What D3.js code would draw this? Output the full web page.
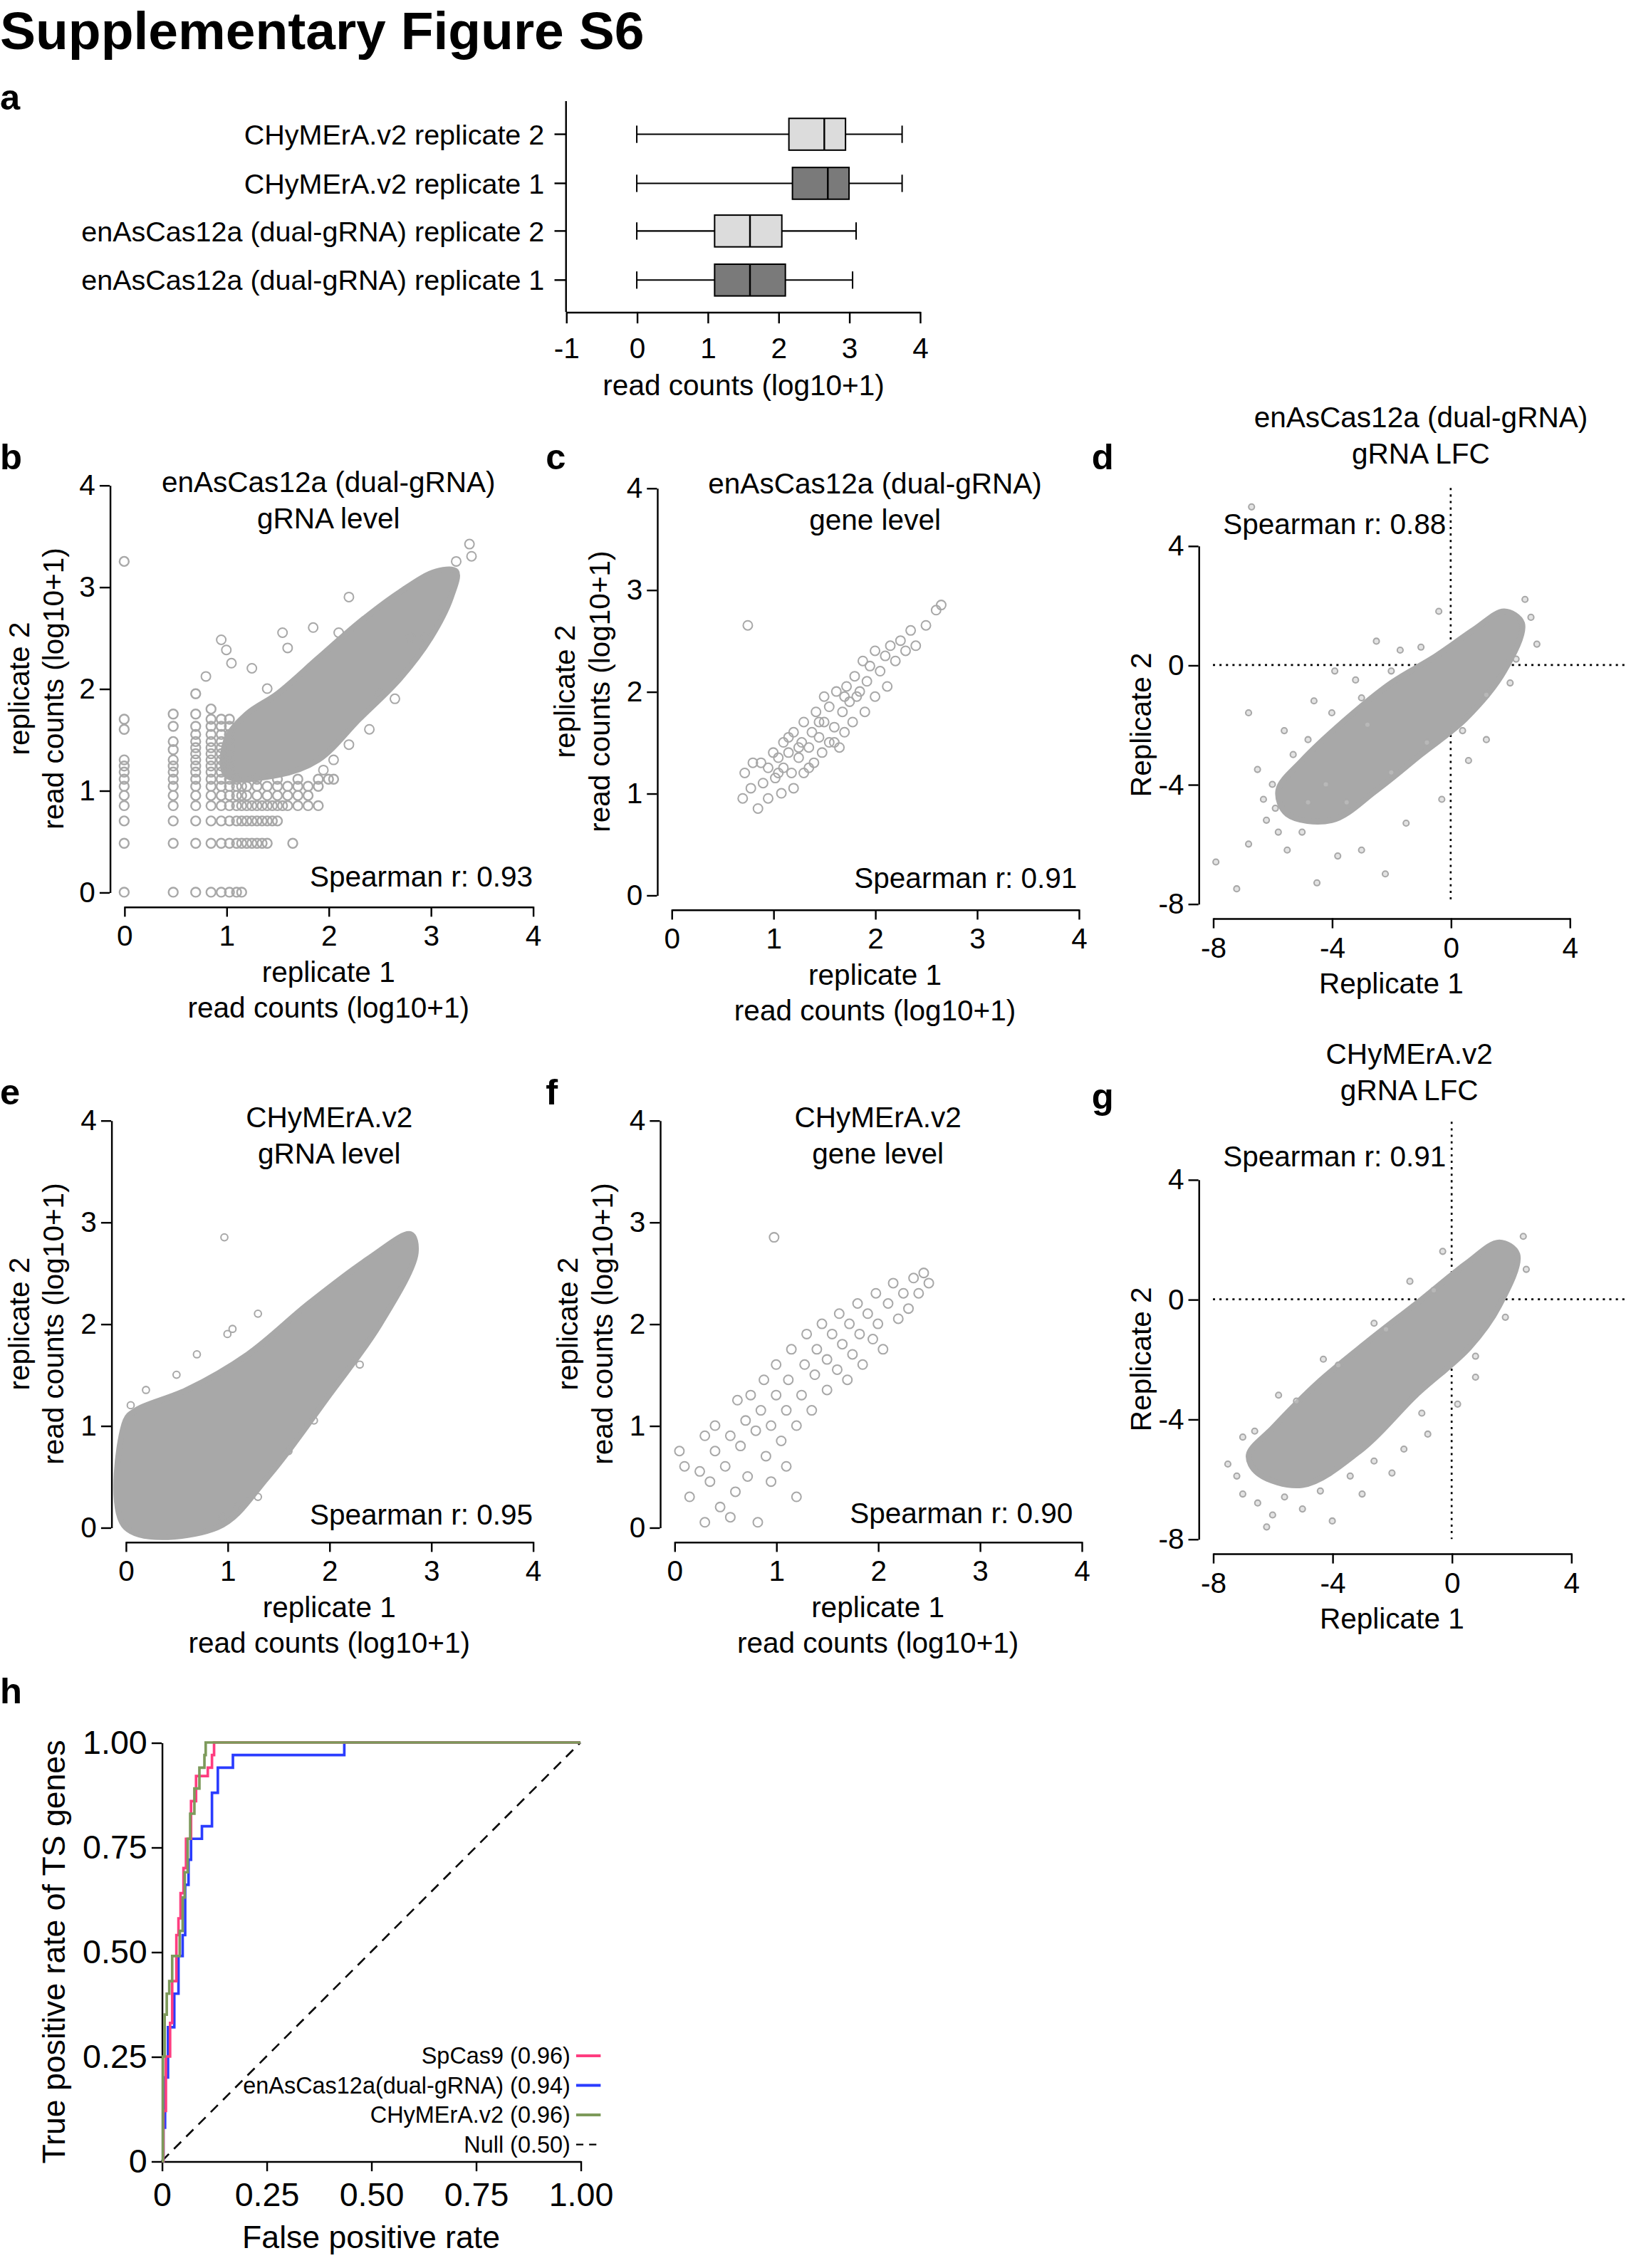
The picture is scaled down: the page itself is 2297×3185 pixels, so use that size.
<!DOCTYPE html>
<html><head><meta charset="utf-8">
<script src="https://cdn.jsdelivr.net/npm/d3@7"></script>
<style>body{margin:0;background:#fff}text{font-family:"Liberation Sans",Arial,Helvetica,sans-serif}</style>
</head><body><svg id="fig" width="2297" height="3185"></svg>
<script>
// ---- panel a: box plots (log10 read counts) ----
var boxLabels = ['CHyMErA.v2 replicate 2', 'CHyMErA.v2 replicate 1', 'enAsCas12a (dual-gRNA) replicate 2', 'enAsCas12a (dual-gRNA) replicate 1'];
var boxMin = [0, 0, 0, 0];
var boxQ1 = [2.15, 2.2, 1.1, 1.1];
var boxMed = [2.65, 2.7, 1.6, 1.6];
var boxQ3 = [2.95, 3.0, 2.05, 2.1];
var boxMax = [3.75, 3.75, 3.1, 3.05];
var boxFill = ['#dcdcdc', '#7a7a7a', '#dcdcdc', '#7a7a7a'];

// ---- scatter panels: dense core outline + individually visible points ----
var bCore = [[1.0,1.15],[1.5,1.15],[1.9,1.3],[2.3,1.7],[2.7,2.1],[3.0,2.5],[3.2,2.9],[3.25,3.15],[3.05,3.15],[2.7,2.95],[2.3,2.65],[1.9,2.3],[1.5,1.95],[1.2,1.75],[1.0,1.5]];
var bColumns = [
  {x: 0, ys: [0, 0.48, 0.7, 0.85, 0.95, 1.04, 1.11, 1.18, 1.24, 1.3, 1.6, 1.7, 3.25]},
  {x: 0.48, ys: [0, 0.48, 0.7, 0.85, 0.95, 1.04, 1.11, 1.18, 1.24, 1.3, 1.4, 1.48, 1.63, 1.75]},
  {x: 0.7, ys: [0, 0.48, 0.7, 0.85, 0.95, 1.04, 1.11, 1.18, 1.24, 1.3, 1.36, 1.42, 1.48, 1.55, 1.63, 1.75, 1.95]},
  {x: 0.85, ys: [0, 0.48, 0.7, 0.85, 0.95, 1.04, 1.11, 1.18, 1.24, 1.3, 1.36, 1.42, 1.48, 1.55, 1.63, 1.7, 1.8]},
  {x: 0.95, ys: [0, 0.48, 0.7, 0.85, 0.95, 1.04, 1.11, 1.18, 1.24, 1.3, 1.36, 1.42, 1.48, 1.55, 1.63, 1.7]},
  {x: 1.03, ys: [0, 0.48, 0.7, 0.85, 0.95, 1.04, 1.11, 1.18, 1.24, 1.3, 1.36, 1.42, 1.48, 1.55, 1.63, 1.7]},
  {x: 1.1, ys: [0, 0.48, 0.7, 0.85, 0.95, 1.04, 1.11]},
  {x: 1.15, ys: [0, 0.48, 0.7, 0.85, 0.95, 1.04]}
];
var bRows = [
  {y: 0.48, xs: [1.2, 1.25, 1.3, 1.35, 1.4, 1.65]},
  {y: 0.7, xs: [1.2, 1.25, 1.3, 1.35, 1.4, 1.45, 1.5]},
  {y: 0.85, xs: [1.2, 1.25, 1.3, 1.35, 1.4, 1.45, 1.5, 1.55, 1.6, 1.7, 1.8, 1.9]},
  {y: 0.95, xs: [1.2, 1.3, 1.4, 1.5, 1.6, 1.7, 1.8]},
  {y: 1.04, xs: [1.2, 1.3, 1.4, 1.5, 1.6, 1.7, 1.8, 1.9]},
  {y: 1.11, xs: [1.3, 1.5, 1.7, 1.9, 2.0, 2.05]}
];
var bPoints = [[0.95,2.48],[1.0,2.38],[1.55,2.55],[1.85,2.6],[2.2,2.9],[0.8,2.12],[1.25,2.2],[1.6,2.4],[1.05,2.25],[2.65,1.9],[2.4,1.6],[2.05,1.3],[1.95,1.2],[3.38,3.42],[3.4,3.3],[3.25,3.25],[2.95,2.5],[2.8,2.5],[2.1,2.55],[1.4,2.0],[2.5,1.95],[2.2,1.45]];

var cPoints = [[0.75,2.65],[0.7,0.95],[0.72,1.2],[0.8,1.3],[0.78,1.05],[0.85,0.85],[0.9,1.1],[0.95,1.25],[0.95,0.95],[1.0,1.4],[1.02,1.15],[1.05,1.35],[1.08,1.0],[1.1,1.5],[1.1,1.25],[1.15,1.4],[1.18,1.2],[1.2,1.6],[1.2,1.05],[1.25,1.35],[1.28,1.5],[1.3,1.7],[1.3,1.2],[1.35,1.45],[1.38,1.6],[1.4,1.3],[1.42,1.8],[1.45,1.55],[1.48,1.4],[1.5,1.7],[1.5,1.95],[1.55,1.5],[1.55,1.85],[1.6,1.65],[1.62,2.0],[1.65,1.45],[1.68,1.8],[1.7,1.6],[1.72,2.05],[1.75,1.9],[1.78,1.7],[1.8,2.15],[1.82,1.95],[1.85,2.0],[1.88,2.3],[1.9,1.8],[1.92,2.1],[1.95,2.25],[2.0,1.95],[2.0,2.4],[2.05,2.2],[2.1,2.35],[2.12,2.05],[2.15,2.45],[2.2,2.3],[2.25,2.5],[2.3,2.4],[2.35,2.6],[2.4,2.45],[2.5,2.65],[2.6,2.8],[2.65,2.85],[1.25,1.45],[1.35,1.25],[1.45,1.7],[1.6,1.5],[1.7,1.95],[1.15,1.55],[1.05,1.2],[0.88,1.3]];

var dCore = [[-5.5,-5.0],[-4.0,-5.2],[-2.5,-4.2],[-1.0,-3.0],[0.5,-1.8],[1.8,-0.2],[2.4,1.4],[1.8,1.8],[0.8,1.2],[-0.5,0.3],[-2.0,-0.6],[-3.5,-1.8],[-5.0,-3.2],[-5.8,-4.2]];
var dPoints = [[-7.9,-6.6],[-7.2,-7.5],[-6.8,-6.0],[-6.2,-5.2],[-6.5,-3.5],[-5.9,-4.8],[-5.5,-6.2],[-4.5,-7.3],[-2.2,-7.0],[-3.0,-6.2],[-3.8,-6.4],[-6.8,-1.6],[-5.6,-2.2],[-4.6,-1.2],[-3.2,-0.5],[-1.7,0.5],[-0.4,1.8],[1.2,-2.5],[0.6,-3.2],[-0.3,-4.5],[-1.5,-5.3],[-3.9,-0.2],[-2.5,0.8],[2.5,2.2],[2.7,1.6],[2.9,0.7],[-6.7,5.3],[-4.2,-4.0],[-5.0,-5.6],[-2.8,-2.0],[-6.0,-4.0],[-5.3,-3.0],[-4.8,-2.5],[-4.0,-1.6],[-3.0,-1.1],[-2.0,-0.2],[-1.0,0.6],[-4.8,-4.6],[-3.5,-4.6],[-2.0,-3.6],[-0.8,-2.6],[0.4,-2.2],[1.2,-1.0],[2.0,-0.6],[2.2,0.2],[-6.3,-4.5],[-5.8,-5.6]];

var eCore = [[0,0],[0.9,0],[1.4,0.5],[2.0,1.3],[2.5,2.0],[2.85,2.7],[2.8,2.88],[2.4,2.65],[1.8,2.2],[1.2,1.7],[0.6,1.35],[0.1,1.15],[0,1.05]];
var ePoints = [[0.97,2.85],[0.05,1.2],[0.2,1.35],[0.5,1.5],[0.7,1.7],[1.05,1.95],[1.3,2.1],[1.1,0.2],[1.3,0.3],[1.6,0.75],[1.85,1.05],[2.3,1.6],[0.95,0.1],[1.0,1.9]];

var fPoints = [[0.98,2.85],[0.05,0.75],[0.1,0.6],[0.15,0.3],[0.25,0.55],[0.3,0.05],[0.35,0.45],[0.4,0.75],[0.45,0.2],[0.5,0.6],[0.55,0.9],[0.6,0.35],[0.62,1.25],[0.65,0.8],[0.7,1.05],[0.72,0.5],[0.75,1.3],[0.8,0.95],[0.82,0.05],[0.85,1.15],[0.88,1.45],[0.9,0.7],[0.95,1.0],[1.0,1.3],[1.0,1.6],[1.05,0.85],[1.1,1.15],[1.12,1.45],[1.15,1.75],[1.2,1.0],[1.25,1.3],[1.28,1.6],[1.3,1.9],[1.35,1.15],[1.38,1.5],[1.4,1.75],[1.45,2.0],[1.5,1.35],[1.5,1.65],[1.55,1.9],[1.6,1.55],[1.62,2.1],[1.65,1.8],[1.7,1.45],[1.72,2.0],[1.75,1.7],[1.8,2.2],[1.82,1.9],[1.85,1.6],[1.9,2.1],[1.95,1.85],[1.98,2.3],[2.0,2.0],[2.05,1.75],[2.1,2.2],[2.15,2.4],[2.2,2.05],[2.25,2.3],[2.3,2.15],[2.35,2.45],[2.4,2.3],[2.45,2.5],[2.5,2.4],[0.4,1.0],[0.3,0.9],[1.2,0.3],[1.1,0.6],[0.55,0.1],[0.95,0.45]];

var gCore = [[-6.5,-5.8],[-5.0,-6.2],[-3.0,-5.0],[-1.2,-3.2],[0.6,-1.6],[1.6,-0.2],[2.2,1.5],[1.6,1.9],[0.5,1.2],[-1.0,0.0],[-2.8,-1.4],[-4.5,-2.8],[-6.0,-4.3],[-6.8,-5.2]];
var gPoints = [[-7.0,-6.5],[-6.5,-6.8],[-6.0,-7.2],[-5.0,-7.0],[-4.0,-7.4],[-3.0,-6.5],[-2.0,-5.8],[-7.0,-4.6],[-5.8,-3.2],[-4.3,-2.0],[-2.6,-0.8],[-1.4,0.6],[-0.3,1.6],[0.8,-2.6],[0.2,-3.5],[-0.8,-4.5],[2.4,2.1],[2.5,1.0],[-7.5,-5.5],[-6.2,-7.6],[-1.6,-5.0],[-7.2,-5.9],[-6.6,-4.4],[-5.2,-3.4],[-3.8,-2.2],[-2.2,-1.0],[-0.6,0.3],[-4.4,-6.4],[-2.6,-5.4],[-1.0,-3.8],[0.8,-1.9],[1.8,-0.6],[-5.6,-6.6],[-3.4,-5.9]];

// ---- panel h: ROC curves (FPR, TPR) ----
var rocSpCas9 = [[0,0],[0.004,0.12],[0.01,0.25],[0.02,0.33],[0.025,0.43],[0.035,0.54],[0.04,0.58],[0.045,0.64],[0.052,0.7],[0.058,0.77],[0.07,0.86],[0.082,0.92],[0.11,0.94],[0.12,0.97],[0.125,1],[1,1]];
var rocEnAs = [[0,0],[0.004,0.08],[0.008,0.2],[0.015,0.32],[0.03,0.4],[0.04,0.49],[0.05,0.54],[0.056,0.66],[0.064,0.72],[0.07,0.77],[0.096,0.8],[0.12,0.88],[0.134,0.94],[0.17,0.97],[0.436,1],[1,1]];
var rocChymera = [[0,0],[0.003,0.25],[0.007,0.35],[0.012,0.4],[0.018,0.43],[0.025,0.49],[0.043,0.55],[0.05,0.63],[0.055,0.69],[0.062,0.77],[0.068,0.83],[0.078,0.89],[0.09,0.94],[0.102,0.97],[0.105,1],[1,1]];
var rocLegend = ['SpCas9 (0.96)', 'enAsCas12a(dual-gRNA) (0.94)', 'CHyMErA.v2 (0.96)', 'Null (0.50)'];
var rocColors = ['#ff3d80', '#2a3cff', '#7d9a5b', '#000'];

var S = 2297 / 1133;
var grey = '#a8a8a8';
var FS = 20;
var svg = d3.select('#fig');
var root = svg.append('g').attr('transform', 'scale(' + S + ')');

root.append('text').attr('x', 0).attr('y', 34).attr('font-size', 37).attr('font-weight', 'bold').text('Supplementary Figure S6');
[['a', 0, 76], ['b', 0, 325], ['c', 378, 325], ['d', 756, 325], ['e', 0, 765], ['f', 378, 765], ['g', 756, 768], ['h', 0, 1180]].forEach(function (l) {
  root.append('text').attr('x', l[1]).attr('y', l[2]).attr('font-size', 25).attr('font-weight', 'bold').text(l[0]);
});

function styleAxis (g, fs) {
  g.selectAll('path,line').attr('stroke', '#000').attr('stroke-width', 1.2);
  g.selectAll('text').attr('font-size', fs).attr('fill', '#000').style('font-family', '"Liberation Sans",Arial,sans-serif');
}
var plain = function (d) { return String(d); };

// panel a
var ax = d3.scaleLinear().domain([-1, 4]).range([392, 637]);
var rowY = [93, 127, 160, 194];
var pa = root.append('g');
pa.append('line').attr('x1', 392).attr('x2', 392).attr('y1', 70).attr('y2', 216).attr('stroke', '#000').attr('stroke-width', 1.2);
rowY.forEach(function (y, i) {
  pa.append('line').attr('x1', 384).attr('x2', 392).attr('y1', y).attr('y2', y).attr('stroke', '#000').attr('stroke-width', 1.2);
  pa.append('text').attr('x', 377).attr('y', y + 7).attr('text-anchor', 'end').attr('font-size', 19.5).text(boxLabels[i]);
  pa.append('line').attr('x1', ax(boxMin[i])).attr('x2', ax(boxMax[i])).attr('y1', y).attr('y2', y).attr('stroke', '#000');
  [boxMin[i], boxMax[i]].forEach(function (v) {
    pa.append('line').attr('x1', ax(v)).attr('x2', ax(v)).attr('y1', y - 6).attr('y2', y + 6).attr('stroke', '#000');
  });
  pa.append('rect').attr('x', ax(boxQ1[i])).attr('width', ax(boxQ3[i]) - ax(boxQ1[i])).attr('y', y - 11).attr('height', 22)
    .attr('fill', boxFill[i]).attr('stroke', '#000');
  pa.append('line').attr('x1', ax(boxMed[i])).attr('x2', ax(boxMed[i])).attr('y1', y - 11).attr('y2', y + 11).attr('stroke', '#000').attr('stroke-width', 1.2);
});
var axA = pa.append('g').attr('transform', 'translate(0,216)').call(d3.axisBottom(ax).ticks(5).tickFormat(plain).tickSize(8).tickSizeOuter(0).tickPadding(10));
styleAxis(axA, FS);
pa.append('text').attr('x', 515).attr('y', 274).attr('text-anchor', 'middle').attr('font-size', FS).text('read counts (log10+1)');

// generic scatter panel
function scatter (o) {
  var g = root.append('g');
  var x = d3.scaleLinear().domain(o.dom).range(o.xr);
  var y = d3.scaleLinear().domain(o.dom).range(o.yr);
  var ya = g.append('g').attr('transform', 'translate(' + (o.xr[0] - 10) + ',0)').call(d3.axisLeft(y).tickValues(o.ticks).tickFormat(plain).tickSize(7).tickSizeOuter(0).tickPadding(3));
  var xa = g.append('g').attr('transform', 'translate(0,' + (o.yr[0] + 10) + ')').call(d3.axisBottom(x).tickValues(o.ticks).tickFormat(plain).tickSize(7).tickSizeOuter(0).tickPadding(6));
  styleAxis(ya, FS); styleAxis(xa, FS);
  if (o.dotted) {
    g.append('line').attr('x1', x(0)).attr('x2', x(0)).attr('y1', o.yr[1] - 40).attr('y2', o.yr[0]).attr('stroke', '#000').attr('stroke-dasharray', '1.5,3').attr('stroke-width', 1.3);
    g.append('line').attr('x1', o.xr[0]).attr('x2', o.xr[1] + 40).attr('y1', y(0)).attr('y2', y(0)).attr('stroke', '#000').attr('stroke-dasharray', '1.5,3').attr('stroke-width', 1.3);
  }
  if (o.core) {
    g.append('path').datum(o.core).attr('d', d3.line().x(function (d) { return x(d[0]); }).y(function (d) { return y(d[1]); }).curve(d3.curveCatmullRomClosed))
      .attr('fill', grey).attr('stroke', grey).attr('stroke-width', 4);
  }
  g.selectAll('circle.p').data(o.points).enter().append('circle')
    .attr('cx', function (d) { return x(d[0]); }).attr('cy', function (d) { return y(d[1]); })
    .attr('r', o.r).attr('fill', o.dotted ? '#c8c8c8' : 'none').attr('fill-opacity', 0.5).attr('stroke', grey).attr('stroke-width', 1);
  var cx = (o.xr[0] + o.xr[1]) / 2;
  o.title.forEach(function (t, i) {
    g.append('text').attr('x', o.titleX || cx).attr('y', o.titleY + i * 25).attr('text-anchor', 'middle').attr('font-size', FS).text(t);
  });
  o.xlab.forEach(function (t, i) {
    g.append('text').attr('x', cx).attr('y', o.yr[0] + 62 + i * 25).attr('text-anchor', 'middle').attr('font-size', FS).text(t);
  });
  var cy = (o.yr[0] + o.yr[1]) / 2;
  o.ylab.forEach(function (t, i) {
    var xx = o.ylabX + i * 24;
    g.append('text').attr('transform', 'translate(' + xx + ',' + cy + ') rotate(-90)').attr('text-anchor', 'middle').attr('font-size', FS).text(t);
  });
  g.append('text').attr('x', o.sp[0]).attr('y', o.sp[1]).attr('text-anchor', o.sp[2]).attr('font-size', FS).text(o.spText);
  return {g: g, x: x, y: y};
}

var readLab = ['replicate 1', 'read counts (log10+1)'];
var readYLab = ['replicate 2', 'read counts (log10+1)'];
var pb = scatter({dom: [0, 4], xr: [86, 369], yr: [618, 336], ticks: [0, 1, 2, 3, 4], core: bCore, points: bPoints, r: 3.2,
  title: ['enAsCas12a (dual-gRNA)', 'gRNA level'], titleY: 341, xlab: readLab, ylab: readYLab, ylabX: 20,
  sp: [369, 614, 'end'], spText: 'Spearman r: 0.93'});
bColumns.forEach(function (c) {
  c.ys.forEach(function (v) { pb.g.append('circle').attr('cx', pb.x(c.x)).attr('cy', pb.y(v)).attr('r', 3.2).attr('fill', 'none').attr('stroke', grey).attr('stroke-width', 1.2); });
});
bRows.forEach(function (rw) {
  rw.xs.forEach(function (v) { pb.g.append('circle').attr('cx', pb.x(v)).attr('cy', pb.y(rw.y)).attr('r', 3.2).attr('fill', 'none').attr('stroke', grey).attr('stroke-width', 1.2); });
});

scatter({dom: [0, 4], xr: [465, 747], yr: [620, 338], ticks: [0, 1, 2, 3, 4], points: cPoints, r: 3.2,
  title: ['enAsCas12a (dual-gRNA)', 'gene level'], titleY: 342, xlab: readLab, ylab: readYLab, ylabX: 398,
  sp: [746, 615, 'end'], spText: 'Spearman r: 0.91'});

scatter({dom: [-8, 4], xr: [840, 1087], yr: [626, 378], ticks: [-8, -4, 0, 4], core: dCore, points: dPoints, r: 2, dotted: true,
  title: ['enAsCas12a (dual-gRNA)', 'gRNA LFC'], titleY: 296, titleX: 984, xlab: ['Replicate 1'], ylab: ['Replicate 2'], ylabX: 797,
  sp: [847, 370, 'start'], spText: 'Spearman r: 0.88'});

scatter({dom: [0, 4], xr: [87, 369], yr: [1058, 776], ticks: [0, 1, 2, 3, 4], core: eCore, points: ePoints, r: 2.4,
  title: ['CHyMErA.v2', 'gRNA level'], titleY: 781, xlab: readLab, ylab: readYLab, ylabX: 20,
  sp: [369, 1056, 'end'], spText: 'Spearman r: 0.95'});

scatter({dom: [0, 4], xr: [467, 749], yr: [1058, 776], ticks: [0, 1, 2, 3, 4], points: fPoints, r: 3.2,
  title: ['CHyMErA.v2', 'gene level'], titleY: 781, xlab: readLab, ylab: readYLab, ylabX: 400,
  sp: [743, 1055, 'end'], spText: 'Spearman r: 0.90'});

scatter({dom: [-8, 4], xr: [840, 1088], yr: [1066, 817], ticks: [-8, -4, 0, 4], core: gCore, points: gPoints, r: 2, dotted: true,
  title: ['CHyMErA.v2', 'gRNA LFC'], titleY: 737, titleX: 976, xlab: ['Replicate 1'], ylab: ['Replicate 2'], ylabX: 797,
  sp: [847, 808, 'start'], spText: 'Spearman r: 0.91'});

// panel h
var hx = d3.scaleLinear().domain([0, 1]).range([112, 402]);
var hy = d3.scaleLinear().domain([0, 1]).range([1497, 1207]);
var ph = root.append('g');
var hticks = [0, 0.25, 0.5, 0.75, 1];
var hfmt = function (d) { return d === 0 ? '0' : d3.format('.2f')(d); };
var hya = ph.append('g').attr('transform', 'translate(112,0)').call(d3.axisLeft(hy).tickValues(hticks).tickFormat(hfmt).tickSize(7).tickSizeOuter(0).tickPadding(3));
var hxa = ph.append('g').attr('transform', 'translate(0,1497)').call(d3.axisBottom(hx).tickValues(hticks).tickFormat(hfmt).tickSize(7).tickSizeOuter(0).tickPadding(8));
styleAxis(hya, 23); styleAxis(hxa, 23);
ph.append('line').attr('x1', hx(0)).attr('y1', hy(0)).attr('x2', hx(1)).attr('y2', hy(1)).attr('stroke', '#000').attr('stroke-width', 1.3).attr('stroke-dasharray', '7,5');
var rl = d3.line().x(function (d) { return hx(d[0]); }).y(function (d) { return hy(d[1]); }).curve(d3.curveStepAfter);
[rocEnAs, rocSpCas9, rocChymera].forEach(function (s, i) {
  var col = [rocColors[1], rocColors[0], rocColors[2]][i];
  ph.append('path').datum(s).attr('d', rl).attr('fill', 'none').attr('stroke', col).attr('stroke-width', 1.8);
});
rocLegend.forEach(function (t, i) {
  var y = 1424 + i * 20.5;
  ph.append('text').attr('x', 395).attr('y', y + 5.5).attr('text-anchor', 'end').attr('font-size', 16).text(t);
  ph.append('line').attr('x1', 399).attr('x2', 416).attr('y1', y).attr('y2', y).attr('stroke', rocColors[i]).attr('stroke-width', i === 3 ? 1.2 : 2)
    .attr('stroke-dasharray', i === 3 ? '5,4' : null);
});
ph.append('text').attr('x', 257).attr('y', 1557).attr('text-anchor', 'middle').attr('font-size', 22).text('False positive rate');
ph.append('text').attr('transform', 'translate(45,1352) rotate(-90)').attr('text-anchor', 'middle').attr('font-size', 22).text('True positive rate of TS genes');
</script></body></html>
